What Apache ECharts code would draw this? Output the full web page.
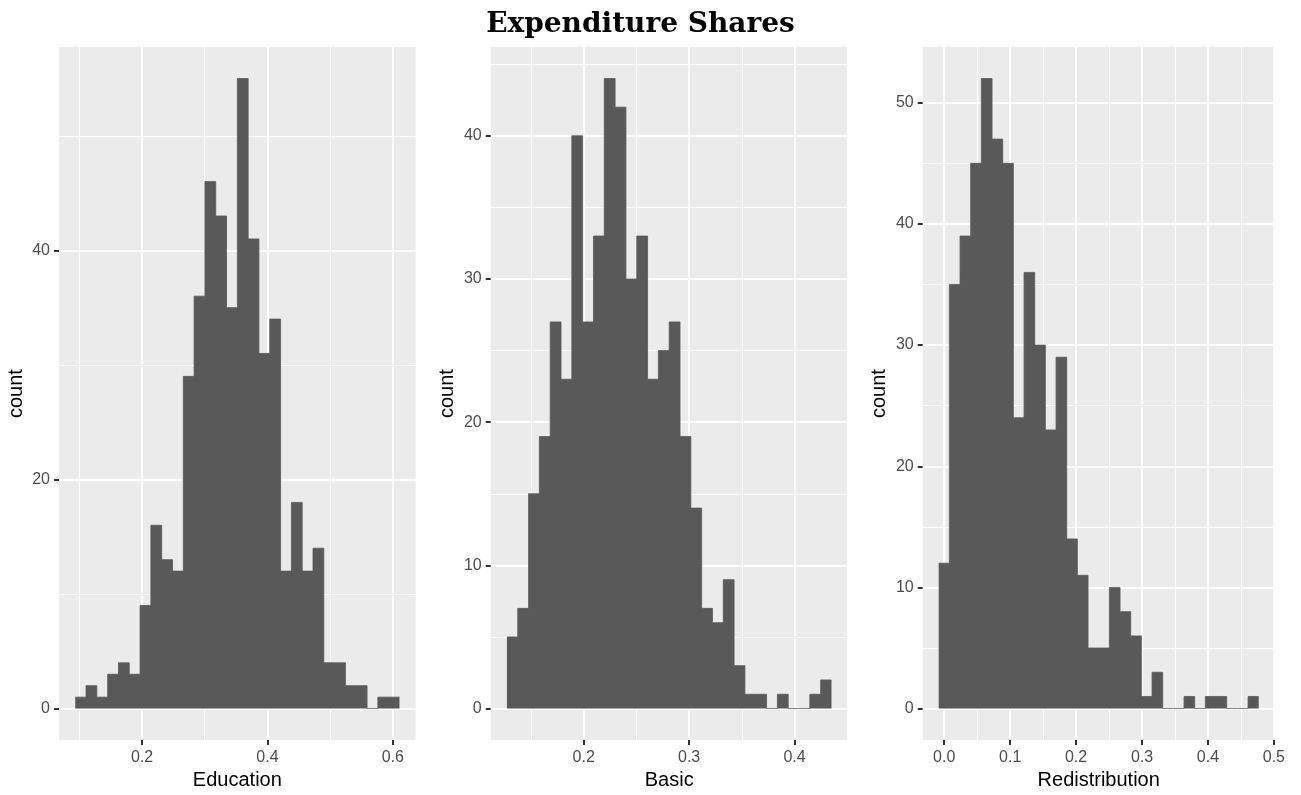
<!DOCTYPE html>
<html><head><meta charset="utf-8">
<script src="https://cdn.jsdelivr.net/npm/echarts@6/dist/echarts.min.js"></script>
<style>html,body{margin:0;padding:0;background:#fff;} #c{width:1288px;height:795px;}</style>
</head><body><div id="c"></div>
<script>
// ---- data ----
const chartTitle = 'Expenditure Shares';
const panelNames = ['Education', 'Basic', 'Redistribution'];
const educationCounts = [1,2,1,3,4,3,9,16,13,12,29,36,46,43,35,55,41,31,34,12,18,12,14,4,4,2,2,0,1,1];
const basicCounts = [5,7,15,19,27,23,40,27,33,44,42,30,33,23,25,27,19,14,7,6,9,3,1,1,0,1,0,0,1,2];
const redistributionCounts = [12,35,39,45,52,47,45,24,36,30,23,29,14,11,5,5,10,8,6,1,3,0,0,1,0,1,1,0,0,1];
const binStarts = [0.0934, 0.1272, -0.0084];
const binWidths = [0.01724, 0.01026, 0.01618];
const xMajorTicks = [[0.2,0.4,0.6],[0.2,0.3,0.4],[0,0.1,0.2,0.3,0.4,0.5]];
const xMinorTicks = [[0.1,0.3,0.5],[0.15,0.25,0.35,0.45],[0.05,0.15,0.25,0.35,0.45]];
const yMajorTicks = [[0,20,40],[0,10,20,30,40],[0,10,20,30,40,50]];
const yMinorTicks = [[10,30,50],[5,15,25,35,45],[5,15,25,35,45]];
const yAxisTitle = 'count';

// ---- layout / style ----
const allCounts = [educationCounts, basicCounts, redistributionCounts];
const gridLefts = [59, 490.7, 922.7];
const gridWidths = [356.7, 357, 356];
const gridTop = 47, gridHeight = 695.3;
const labelFont = 'Liberation Sans, Arial, Helvetica, sans-serif';

const grids = [], xAxes = [], yAxes = [], series = [];
allCounts.forEach((counts, i) => {
  const start = binStarts[i], w = binWidths[i];
  const end = start + w * counts.length;
  const xr = end - start;
  const xmin = start - 0.05 * xr, xmax = end + 0.05 * xr;
  const cmax = Math.max.apply(null, counts);
  const ymin = -0.05 * cmax, ymax = cmax * 1.05;
  grids.push({left: gridLefts[i], top: gridTop, width: gridWidths[i], height: gridHeight,
    show: true, backgroundColor: '#EBEBEB', borderWidth: 0});
  // major x
  xAxes.push({type: 'value', gridIndex: i, min: xmin, max: xmax, position: 'bottom',
    name: panelNames[i], nameLocation: 'middle', nameGap: 28,
    nameTextStyle: {color: '#000', fontSize: 20, fontFamily: labelFont},
    axisLine: {show: false, onZero: false},
    axisTick: {show: true, length: 5, customValues: xMajorTicks[i], lineStyle: {color: '#333333', width: 2}},
    axisLabel: {show: true, margin: 9, customValues: xMajorTicks[i], color: '#4D4D4D', fontSize: 16, fontFamily: labelFont,
      formatter: v => v.toFixed(1)},
    splitLine: {show: true, lineStyle: {color: '#FFFFFF', width: 2}}
  });
  // minor x
  xAxes.push({type: 'value', gridIndex: i, min: xmin, max: xmax, position: 'bottom',
    axisLine: {show: false, onZero: false},
    axisTick: {show: false, customValues: xMinorTicks[i]},
    axisLabel: {show: false, customValues: xMinorTicks[i]},
    splitLine: {show: true, lineStyle: {color: '#FFFFFF', width: 1}}
  });
  yAxes.push({type: 'value', gridIndex: i, min: ymin, max: ymax, position: 'left',
    name: yAxisTitle, nameLocation: 'middle', nameGap: 33,
    nameTextStyle: {color: '#000', fontSize: 20, fontFamily: labelFont},
    axisLine: {show: false, onZero: false},
    axisTick: {show: true, length: 5, customValues: yMajorTicks[i], lineStyle: {color: '#333333', width: 2}},
    axisLabel: {show: true, margin: 9, customValues: yMajorTicks[i], color: '#4D4D4D', fontSize: 16, fontFamily: labelFont},
    splitLine: {show: true, lineStyle: {color: '#FFFFFF', width: 2}}
  });
  yAxes.push({type: 'value', gridIndex: i, min: ymin, max: ymax, position: 'left',
    axisLine: {show: false, onZero: false},
    axisTick: {show: false, customValues: yMinorTicks[i]},
    axisLabel: {show: false, customValues: yMinorTicks[i]},
    splitLine: {show: true, lineStyle: {color: '#FFFFFF', width: 1}}
  });
  // histogram outline: left edge of each bin with its count, plus right edge of last bin
  const data = counts.map((c, k) => [start + k * w, c]);
  data.push([end, counts[counts.length - 1]]);
  series.push({
    type: 'line', xAxisIndex: 2 * i, yAxisIndex: 2 * i, data: data, z: 5,
    step: 'end', symbol: 'none', silent: true,
    lineStyle: {color: '#595959', width: 0.8},
    areaStyle: {color: '#595959', opacity: 1, origin: 0}
  });
});

const chart = echarts.init(document.getElementById('c'), null, {renderer: 'canvas'});
chart.setOption({
  animation: false,
  backgroundColor: '#FFFFFF',
  title: {text: chartTitle, left: 640.5, top: 11, textAlign: 'center', padding: 0,
    textStyle: {fontFamily: 'DejaVu Serif', fontWeight: 'bold', fontSize: 28, color: '#000'}},
  grid: grids,
  xAxis: xAxes,
  yAxis: yAxes,
  series: series
});
</script>
</body></html>
